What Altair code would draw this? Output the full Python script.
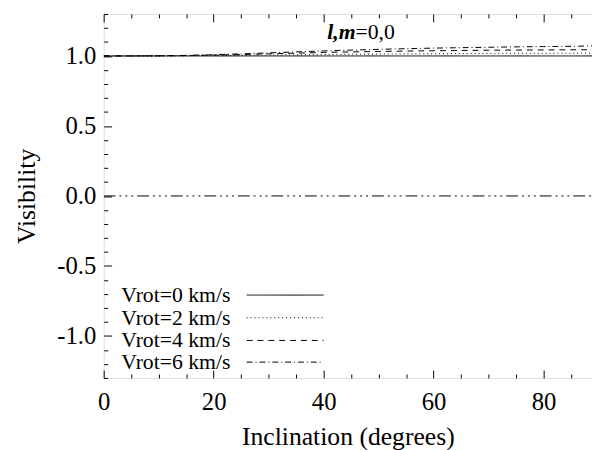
import altair as alt
import pandas as pd

# ---- data ----
inclination = [0, 5, 10, 15, 20, 25, 30, 35, 40, 45, 50, 55, 60, 65, 70, 75, 80, 85, 90]
vis_v0 = [1.0] * 19
vis_v2 = [1.0, 1.0, 1.0, 1.001, 1.002, 1.004, 1.006, 1.008, 1.010, 1.012, 1.014, 1.015,
          1.016, 1.017, 1.018, 1.019, 1.019, 1.020, 1.020]
vis_v4 = [1.0, 1.0, 1.001, 1.003, 1.006, 1.010, 1.015, 1.020, 1.025, 1.029, 1.032, 1.035,
          1.037, 1.039, 1.041, 1.042, 1.043, 1.044, 1.045]
vis_v6 = [1.0, 1.0, 1.001, 1.004, 1.009, 1.015, 1.022, 1.029, 1.036, 1.042, 1.047, 1.052,
          1.056, 1.059, 1.062, 1.065, 1.067, 1.069, 1.072]
series_names = ["Vrot=0 km/s", "Vrot=2 km/s", "Vrot=4 km/s", "Vrot=6 km/s"]
series_dash = [[1, 0], [1, 3], [6, 5], [6, 3, 1, 3]]
x_ticks = list(range(0, 90, 5))
y_ticks = [round(i * 0.1, 1) for i in range(-13, 14)]
zero_x = [0, 90]
legend_y = [-0.708, -0.870, -1.032, -1.187]
legend_text_x = 3.2
legend_line_x = [26.0, 40.0]
note_x = 45.8
note_y = 1.118

X_DOMAIN = [0, 88.8]
Y_DOMAIN = [-1.3, 1.3]
FONT = "Liberation Serif"

rows = []
for name, vals in zip(series_names, [vis_v0, vis_v2, vis_v4, vis_v6]):
    for inc, v in zip(inclination, vals):
        rows.append({"inc": inc, "vis": v, "series": name})
df = pd.DataFrame(rows)

dash_scale = alt.Scale(domain=series_names, range=series_dash)

x_major = "datum.value % 20 == 0"
y_major = "abs(datum.value * 2 - round(datum.value * 2)) < 0.000001"
MINOR_DASH = [4, 40]
MAJOR_DASH = [40, 0]

x_axis_bottom = alt.Axis(
    orient="bottom", values=x_ticks, title="Inclination (degrees)",
    labelExpr=f"{x_major} ? datum.label : ''", labelOverlap=False, labelFlush=False,
    tickSize={"expr": "-8"},
    tickDash={"condition": {"test": x_major, "value": MAJOR_DASH}, "value": MINOR_DASH},
    labelPadding=20, labelFontSize=25, titleFontSize=26, titlePadding=9,
    labelFont=FONT, titleFont=FONT, titleFontWeight="normal",
    domain=False, grid=False, tickColor="black", labelColor="black", titleColor="black",
)
x_axis_top = alt.Axis(
    orient="top", values=x_ticks, title=None, labels=False,
    tickSize={"expr": "-8"},
    tickDash={"condition": {"test": x_major, "value": MAJOR_DASH}, "value": MINOR_DASH},
    domain=False, grid=False, tickColor="black",
)
y_axis = alt.Axis(
    orient="left", values=y_ticks, title="Visibility", labelOverlap=False, labelFlush=False,
    labelExpr=f"{y_major} ? (datum.value < 0 ? '-' + format(-datum.value, '.1f') : format(datum.value, '.1f')) : ''",
    tickSize={"expr": "-8"},
    tickDash={"condition": {"test": y_major, "value": MAJOR_DASH}, "value": MINOR_DASH},
    labelPadding=16, labelFontSize=25, titleFontSize=26, titlePadding=18,
    labelFont=FONT, titleFont=FONT, titleFontWeight="normal",
    domain=False, grid=False, tickColor="black", labelColor="black", titleColor="black",
)

xs = alt.Scale(domain=X_DOMAIN, nice=False, zero=False)
ys = alt.Scale(domain=Y_DOMAIN, nice=False, zero=False)

lines = alt.Chart(df).mark_line(color="black", strokeWidth=1, clip=True).encode(
    x=alt.X("inc:Q", scale=xs, axis=x_axis_bottom),
    y=alt.Y("vis:Q", scale=ys, axis=y_axis),
    strokeDash=alt.StrokeDash("series:N", scale=dash_scale, legend=None),
    detail="series:N",
)

zero_df = pd.DataFrame({"inc": zero_x, "vis": [0, 0]})
zero_line = alt.Chart(zero_df).mark_line(
    color="black", strokeWidth=1, strokeDash=[12, 4, 2, 4, 2, 4, 2, 4], clip=True
).encode(
    x=alt.X("inc:Q", scale=xs, axis=x_axis_top),
    y=alt.Y("vis:Q", scale=ys, axis=y_axis),
)

leg_df = pd.DataFrame({
    "series": series_names,
    "ly": legend_y,
    "tx": [legend_text_x] * 4,
    "lx1": [legend_line_x[0]] * 4,
    "lx2": [legend_line_x[1]] * 4,
})
leg_text = alt.Chart(leg_df).mark_text(
    align="left", baseline="middle", font=FONT, fontSize=22, color="black"
).encode(
    x=alt.X("tx:Q", scale=xs, axis=None),
    y=alt.Y("ly:Q", scale=ys, axis=y_axis),
    text="series:N",
)
leg_lines = alt.Chart(leg_df).mark_rule(color="black", strokeWidth=1).encode(
    x=alt.X("lx1:Q", scale=xs, axis=None),
    x2="lx2:Q",
    y=alt.Y("ly:Q", scale=ys, axis=y_axis),
    strokeDash=alt.StrokeDash("series:N", scale=dash_scale, legend=None),
)

note_df = pd.DataFrame({"x": [note_x], "y": [note_y], "a": ["l,m"], "b": ["=0,0"]})
note_a = alt.Chart(note_df).mark_text(
    align="right", baseline="alphabetic", font=FONT, fontSize=22,
    fontStyle="italic", fontWeight="bold", color="black"
).encode(x=alt.X("x:Q", scale=xs, axis=None), y=alt.Y("y:Q", scale=ys, axis=y_axis), text="a:N")
note_b = alt.Chart(note_df).mark_text(
    align="left", baseline="alphabetic", font=FONT, fontSize=22, color="black"
).encode(x=alt.X("x:Q", scale=xs, axis=None), y=alt.Y("y:Q", scale=ys, axis=y_axis), text="b:N")

chart = alt.layer(lines, zero_line, leg_text, leg_lines, note_a, note_b).resolve_scale(
    x="independent"
).resolve_axis(x="independent").properties(
    width=495, height=369,
    autosize="none",
    padding={"left": 97, "top": 3, "right": 0, "bottom": 70},
).configure_view(stroke="black", strokeWidth=1).configure(background="white")

chart.save("out.html", embed_options={"renderer": "svg", "actions": False})
